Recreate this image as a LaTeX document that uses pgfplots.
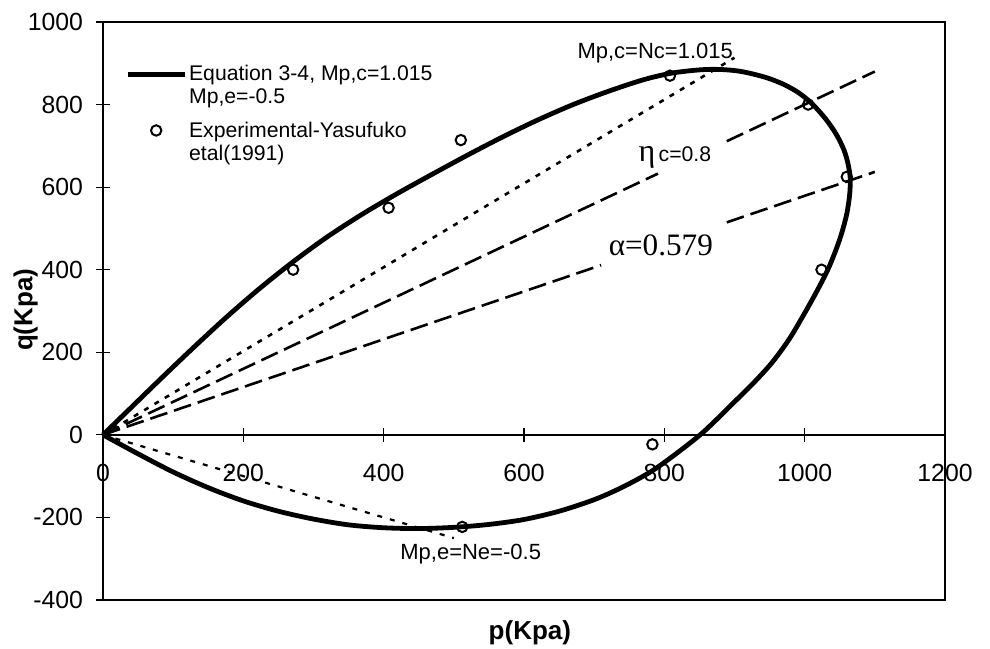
\documentclass[border=0pt]{standalone}
\usepackage{pgfplots}
\pgfplotsset{compat=1.18}
\usepackage{fontspec}
\setmainfont{Liberation Sans}
\newfontfamily\greekserif{Liberation Serif}

\begin{document}
\begin{tikzpicture}
\begin{axis}[
  scale only axis, width=421pt, height=289pt,
  xmin=0, xmax=1200, ymin=-400, ymax=1000,
  axis x line*=middle, axis y line*=left,
  axis line style={line width=0.8pt},
  xtick={0,200,...,1200}, ytick={-400,-200,...,1000},
  hide obscured x ticks=false,
  tick align=center, major tick length=7pt,
  tick style={line width=0.6pt, black},
  /pgf/number format/assume math mode=true,
  /pgf/number format/1000 sep={},
  tick label style={font=\fontsize{12.4}{14}\selectfont},
  xticklabel style={anchor=center, yshift=-15.5pt},
  yticklabel style={xshift=-3pt},
  xlabel={p(Kpa)}, ylabel={q(Kpa)},
  label style={font=\bfseries\fontsize{13}{15}\selectfont},
  xlabel style={at={(axis description cs:0.507,-0.057)}, anchor=center},
  ylabel style={at={(axis description cs:-0.092,0.502)}, anchor=center, rotate=0},
  legend cell align=left,
  legend style={draw=none, fill=none, inner sep=0pt, row sep=5.5pt, column sep=0pt,
    at={(axis description cs:0.026,0.929)}, anchor=north west,
    font=\fontsize{10.6}{11.5}\selectfont, nodes={align=left, inner sep=1pt}},
  clip=false,
]
% yield surface from Equation 3-4
\addplot[line width=2.4pt, smooth, line join=round] coordinates {
  (0,0) (40,66) (80,132) (120,197) (170,276) (220,350) (270,418) (320,480)
  (370,535) (420,585) (470,632) (520,678) (570,722) (620,763) (670,800)
  (720,832) (770,860) (810,876) (850,884) (880,885) (910,880) (944,866)
  (970,849) (991,829) (1010,803) (1030,765) (1045,728) (1056,690) (1062,655)
  (1065,620) (1064,580) (1060,535) (1053,490) (1045,450) (1033,400) (1018,350)
  (1000,295) (978,232) (953,174) (925,122) (900,80) (875,38) (851,0)
  (815,-48) (780,-90) (740,-127) (700,-157) (650,-185) (600,-205) (550,-217)
  (500,-224) (450,-227) (400,-225) (350,-218) (300,-204) (250,-185) (200,-160)
  (150,-128) (100,-90) (50,-46) (0,0)
};
\addlegendentry{Equation 3-4, Mp,c=1.015\\Mp,e=-0.5}
\pgfplotsset{legend image code/.code={\draw[line width=2.4pt] (0pt,5.75pt) -- (28.5pt,5.75pt);}}

% measured points
\addplot[only marks, mark=o, mark size=2.6pt, mark options={line width=1pt}, black,
  legend image code/.code={\draw[mark=o, mark size=2.6pt, mark options={line width=1pt}, only marks] plot coordinates {(14.25pt,6pt)};}]
  coordinates {
  (271,400) (407,550) (510,714) (808,870) (1005,800) (1060,625) (1024,400)
  (783,-23) (512,-223)
};
\addlegendentry{Experimental-Yasufuko\\etal(1991)}

% critical state and stress ratio lines
\addplot[line width=1.3pt, dash pattern=on 2.5pt off 3.5pt, forget plot]
  coordinates {(0,0) (900,913.5)};
\addplot[line width=1.1pt, dash pattern=on 2.5pt off 4pt, forget plot]
  coordinates {(0,0) (500,-250)};
\addplot[line width=1.3pt, dash pattern=on 9pt off 3.5pt, forget plot]
  coordinates {(0,0) (791,632.8)};
\addplot[line width=1.3pt, dash pattern=on 9pt off 3.5pt, forget plot]
  coordinates {(889,711.2) (1100,880)};
\addplot[line width=1.3pt, dash pattern=on 9pt off 3.5pt, forget plot]
  coordinates {(0,0) (710,411.1)};
\addplot[line width=1.3pt, dash pattern=on 9pt off 3.5pt, forget plot]
  coordinates {(889,514.7) (1100,636.9)};

% labels
\node[font=\fontsize{11}{12}\selectfont] at (axis cs:787,925) {Mp,c=Nc=1.015};
\node[font=\fontsize{11}{12}\selectfont] at (axis cs:524,-289) {Mp,e=Ne=-0.5};
\node at (axis cs:815,672) {{\greekserif\fontsize{16}{18}\selectfont η}\,{\fontsize{10.6}{12}\selectfont c=0.8}};
\node[font=\greekserif\fontsize{15.6}{18}\selectfont] at (axis cs:795,460) {α=0.579};

% frame
\draw[line width=1.3pt] (rel axis cs:0,0) rectangle (rel axis cs:1,1);
\coordinate (ll) at (rel axis cs:0,0);
\end{axis}
\pgfresetboundingbox
\path (ll) ++(-51.5pt,-24pt) rectangle ++(495pt,324pt);
\end{tikzpicture}
\end{document}
